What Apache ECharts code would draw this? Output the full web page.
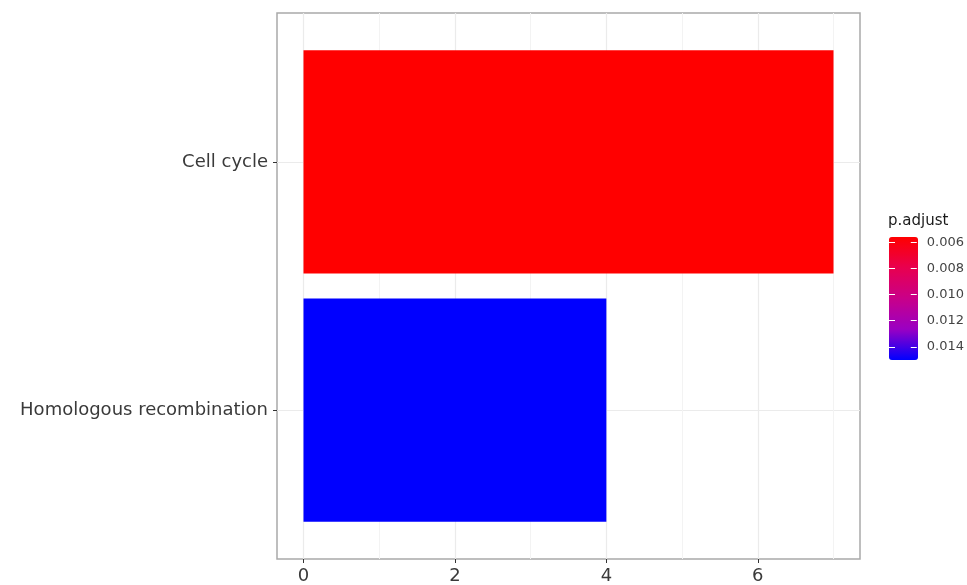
<!DOCTYPE html>
<html>
<head>
<meta charset="utf-8">
<title>KEGG enrichment</title>
<script src="https://cdn.jsdelivr.net/npm/echarts@6/dist/echarts.min.js"></script>
<style>
  html, body { margin: 0; padding: 0; background: #ffffff; }
  #chart { width: 967px; height: 585px; }
</style>
</head>
<body>
<div id="chart"></div>
<script>
// Enriched pathways, gene counts and adjusted p-values
const categories = ['Cell cycle', 'Homologous recombination'];
const geneCounts = [7, 4];
const pAdjust = [0.0056, 0.0150];

// Axis tick values
const countTicks = [0, 2, 4, 6];
const countMinorTicks = [1, 3, 5, 7];
const pTicks = [0.006, 0.008, 0.010, 0.012, 0.014];

// Colour ramp from low to high p.adjust (red to blue through Lab space)
const rampColors = ['#FF0000', '#E8004F', '#C90089', '#9A00C3', '#0000FF'];

const FONT = 'DejaVu Sans';
const countMax = Math.max(...geneCounts);
const countPad = countMax * 0.05;
const pMin = Math.min(...pAdjust);
const pMax = Math.max(...pAdjust);

const barData = categories.map((c, i) => [geneCounts[i], i, pAdjust[i]]);

const chart = echarts.init(document.getElementById('chart'), null, { renderer: 'canvas' });

chart.setOption({
  backgroundColor: '#ffffff',
  animation: false,
  title: {
    text: 'p.adjust',
    left: 888,
    top: 214,
    padding: 0,
    textStyle: { fontFamily: FONT, fontSize: 15, fontWeight: 'normal', color: '#1a1a1a' }
  },
  grid: [
    {
      left: 277, top: 13, width: 583, height: 548,
      show: true, borderColor: '#a9a9a9', borderWidth: 1.5, backgroundColor: 'transparent'
    },
    { left: 889, top: 237, width: 29, height: 123, show: false }
  ],
  xAxis: [
    {
      type: 'value', gridIndex: 0, position: 'bottom',
      min: -countPad, max: countMax + countPad,
      axisLine: { show: false, onZero: false },
      axisTick: { show: true, length: 4, customValues: countTicks, lineStyle: { color: '#333333', width: 1 } },
      axisLabel: {
        customValues: countTicks, margin: 8,
        fontFamily: FONT, fontSize: 18, color: '#3a3a3a'
      },
      splitLine: { show: true, lineStyle: { color: '#ebebeb', width: 1.2 } }
    },
    {
      // minor vertical gridlines
      type: 'value', gridIndex: 0, position: 'top',
      min: -countPad, max: countMax + countPad,
      axisLine: { show: false, onZero: false },
      axisTick: { show: false, customValues: countMinorTicks },
      axisLabel: { show: false, customValues: countMinorTicks },
      splitLine: { show: true, lineStyle: { color: '#f3f3f3', width: 1 } }
    },
    {
      type: 'value', gridIndex: 1, show: false, min: 0, max: 1
    }
  ],
  yAxis: [
    {
      type: 'value', gridIndex: 0, inverse: true, position: 'left',
      min: -0.6, max: categories.length - 1 + 0.6,
      axisLine: { show: false, onZero: false },
      axisTick: { show: true, length: 4, customValues: categories.map((c, i) => i), lineStyle: { color: '#333333', width: 1 } },
      axisLabel: {
        customValues: categories.map((c, i) => i), margin: 9,
        fontFamily: FONT, fontSize: 18, color: '#3a3a3a',
        formatter: v => categories[Math.round(v)]
      },
      splitLine: { show: true, lineStyle: { color: '#ebebeb', width: 1.2 } }
    },
    {
      // colourbar labels and right-edge ticks
      type: 'value', gridIndex: 1, inverse: true, position: 'right',
      min: pMin, max: pMax, z: 10,
      axisLine: { show: false, onZero: false },
      axisTick: { show: true, inside: true, length: 6, customValues: pTicks, lineStyle: { color: '#ffffff', width: 1 } },
      axisLabel: {
        customValues: pTicks, margin: 10,
        fontFamily: FONT, fontSize: 13, color: '#444444',
        formatter: v => v.toFixed(3)
      },
      splitLine: { show: false }
    },
    {
      // colourbar left-edge ticks
      type: 'value', gridIndex: 1, inverse: true, position: 'left',
      min: pMin, max: pMax, z: 10,
      axisLine: { show: false, onZero: false },
      axisTick: { show: true, inside: true, length: 6, customValues: pTicks, lineStyle: { color: '#ffffff', width: 1 } },
      axisLabel: { show: false, customValues: pTicks },
      splitLine: { show: false }
    }
  ],
  visualMap: {
    type: 'continuous',
    seriesIndex: 0,
    dimension: 2,
    min: pMin,
    max: pMax,
    inverse: true,
    calculable: false,
    hoverLink: false,
    realtime: false,
    orient: 'vertical',
    left: 889,
    top: 237,
    padding: 0,
    itemWidth: 29,
    itemHeight: 123,
    text: null,
    showLabel: false,
    inRange: { color: rampColors }
  },
  series: [
    {
      type: 'custom',
      xAxisIndex: 0,
      yAxisIndex: 0,
      encode: { x: 0, y: 1 },
      data: barData,
      z: 5,
      renderItem: function (params, api) {
        const idx = api.value(1);
        const start = api.coord([0, idx]);
        const end = api.coord([api.value(0), idx]);
        const h = Math.abs(api.size([0, 0.9])[1]);
        return {
          type: 'rect',
          shape: { x: start[0], y: start[1] - h / 2, width: end[0] - start[0], height: h },
          style: { fill: api.visual('color') }
        };
      }
    }
  ]
});
</script>
</body>
</html>
